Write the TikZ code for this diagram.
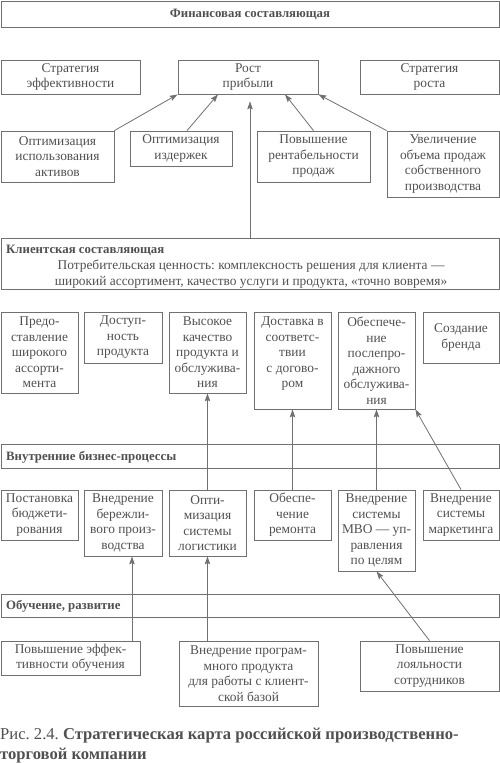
\documentclass[tikz,border=0pt]{standalone}
\usepackage{fontspec}
\setmainfont{Liberation Serif}
\usetikzlibrary{arrows.meta}
\definecolor{tc}{HTML}{505050}
\definecolor{lc}{HTML}{707070}
\frenchspacing
\begin{document}
\begin{tikzpicture}[x=1pt,y=-1pt,
  box/.style={draw=lc, line width=0.8pt, inner sep=0pt, align=center, text=tc, font=\fontsize{13.4}{15.5}\selectfont},
  txt/.style={inner sep=0pt, align=center, text=tc, font=\fontsize{13.4}{15.5}\selectfont},
  hdr/.style={text=tc, font=\bfseries\fontsize{12.8}{14}\selectfont, inner sep=0pt, anchor=west},
  arr/.style={draw=lc, line width=0.8pt, -{Stealth[length=8pt,width=5.5pt,inset=1.5pt]}},
  ln/.style={draw=lc, line width=0.8pt}]
\useasboundingbox (0,0) rectangle (500,763);
% Financial
\node[box, minimum width=498pt, minimum height=26pt, font=\bfseries\fontsize{12.8}{14}\selectfont] (fin) at (250,14) {Финансовая составляющая};
\node[box, minimum width=139pt, minimum height=34pt] (se) at (70.5,77) {Стратегия\\эффективности};
\node[box, minimum width=140pt, minimum height=34pt] (rp) at (248,77) {Рост\\прибыли};
\node[box, minimum width=139pt, minimum height=34pt] (sr) at (429.5,77) {Стратегия\\роста};
\node[box, minimum width=113pt, minimum height=51pt] (f1) at (57.5,156.5) {Оптимизация\\использования\\активов};
\node[box, minimum width=102pt, minimum height=35pt] (f2) at (181,148.5) {Оптимизация\\издержек};
\node[box, minimum width=113pt, minimum height=51pt] (f3) at (313.5,156.5) {Повышение\\рентабельности\\продаж};
\node[box, minimum width=112pt, minimum height=66pt] (f4) at (443,164) {Увеличение\\объема продаж\\собственного\\производства};
% Client
\node[box, minimum width=498pt, minimum height=51pt] (cl) at (250,263.5) {};
\node[hdr] (clh) at (6,250) {Клиентская составляющая};
\node[txt] (clt) at (251,274) {Потребительская ценность: комплексность решения для клиента —\\широкий ассортимент, качество услуги и продукта, «точно вовремя»};
\node[box, minimum width=77pt, minimum height=81pt] (c1) at (39.5,352.5) {Предо-\\ставление\\широкого\\ассорти-\\мента};
\node[box, minimum width=78pt, minimum height=51pt] (c2) at (123,337.5) {Доступ-\\ность\\продукта};
\node[box, minimum width=77pt, minimum height=81pt] (c3) at (207.5,352.5) {Высокое\\качество\\продукта и\\обслужива-\\ния};
\node[box, minimum width=77pt, minimum height=97pt] (c4) at (292.5,360.5) {};
\node[txt, anchor=north] (c4t) at ([yshift=-5pt]c4.north) {Доставка в\\соответс-\\твии\\с догово-\\ром};
\node[box, minimum width=77pt, minimum height=97pt] (c5) at (376.5,360.5) {Обеспече-\\ние\\послепро-\\дажного\\обслужива-\\ния};
\node[box, minimum width=76pt, minimum height=51pt] (c6) at (461,337.5) {Создание\\бренда};
% Internal
\node[box, minimum width=498pt, minimum height=24pt] (ib) at (250,456) {};
\node[hdr] (ibh) at (6,457) {Внутренние бизнес-процессы};
\node[box, minimum width=77pt, minimum height=50pt] (i1) at (39.5,515) {Постановка\\бюджети-\\рования};
\node[box, minimum width=78pt, minimum height=66pt] (i2) at (123,523) {Внедрение\\бережли-\\вого произ-\\водства};
\node[box, minimum width=77pt, minimum height=66pt] (i3) at (207.5,523) {Опти-\\мизация\\системы\\логистики};
\node[box, minimum width=77pt, minimum height=50pt] (i4) at (292.5,515) {Обеспе-\\чение\\ремонта};
\node[box, minimum width=77pt, minimum height=81pt] (i5) at (376.5,530.5) {Внедрение\\системы\\MBO — уп-\\равления\\по целям};
\node[box, minimum width=76pt, minimum height=50pt] (i6) at (461,515) {Внедрение\\системы\\маркетинга};
% Learning
\node[box, minimum width=498pt, minimum height=23pt] (lb) at (250,605.5) {};
\node[hdr] (lbh) at (6,606) {Обучение, развитие};
\node[box, minimum width=139pt, minimum height=34pt] (l1) at (70.5,658) {Повышение эффек-\\тивности обучения};
\node[box, minimum width=139pt, minimum height=65pt] (l2) at (248.5,673.5) {Внедрение програм-\\много продукта\\для работы с клиент-\\ской базой};
\node[box, minimum width=139pt, minimum height=50pt] (l3) at (429.5,666) {Повышение\\лояльности\\сотрудников};
% Caption
\node[anchor=base west, inner sep=0pt, align=left, text=tc, font=\fontsize{16.6}{20}\selectfont] (cap) at (0,759) {Рис. 2.4. \textbf{Стратегическая карта российской производственно-}\\\textbf{торговой компании}};
% Connectors: financial
\draw[arr] (f1.north east) -- (rp.south west);
\draw[arr] ([xshift=6pt]f2.north) -- ([xshift=-30pt]rp.south);
\draw[arr] (f3.north) -- ([xshift=37pt]rp.south);
\draw[arr] (f4.north west) -- (rp.south east);
\coordinate (rpv) at ([xshift=2pt,yshift=-7pt]rp.south);
\draw[arr] (cl.north -| rpv) -- (rpv);
% client <- internal
\draw[arr] (i3.north) -- (c3.south);
\draw[arr] (i4.north) -- (c4.south);
\draw[arr] (i5.north) -- (c5.south);
\draw[arr] (i6.north) -- (c5.south east);
% internal <- learning
\coordinate (a2) at ([xshift=9pt]i2.south);
\draw[arr] (l1.north -| a2) -- (a2);
\draw[arr] (l2.north -| i3.south) -- (i3.south);
\draw[arr] (l3.north) -- (i5.south);
\end{tikzpicture}
\end{document}
